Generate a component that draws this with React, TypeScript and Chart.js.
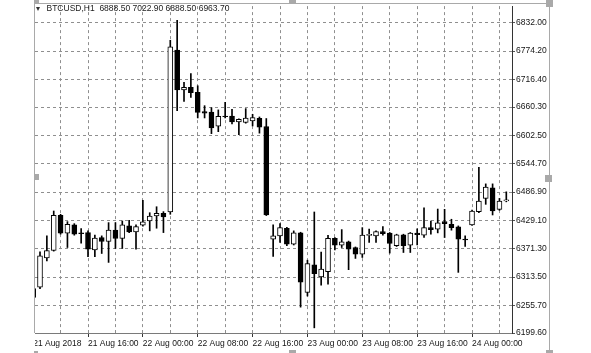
import React, { useEffect, useRef } from 'react';
import { Chart, registerables } from 'chart.js';

Chart.register(...registerables);

// Hourly bars, hour counted from 21 Aug 2018 00:00
const startHour = 8;

const opens = [
  6290.0, 6292.8, 6352.4, 6367.8, 6439.6, 6403.1, 6419.9, 6403.8, 6404.3, 6369.2,
  6394.2, 6386.1, 6409.2, 6392.2, 6417.9, 6405.7, 6419.3, 6428.0, 6438.2, 6443.6,
  6446.3, 6776.1, 6695.0, 6700.2, 6690.1, 6651.0, 6650.0, 6621.2, 6641.9, 6641.9,
  6630.1, 6628.7, 6632.1, 6637.4, 6620.6, 6390.9, 6397.6, 6413.2, 6380.8, 6403.7,
  6282.1, 6338.4, 6313.9, 6324.7, 6392.6, 6378.8, 6385.5, 6373.9, 6360.5, 6398.5,
  6397.6, 6406.3, 6403.1, 6377.4, 6399.7, 6378.8, 6403.1, 6399.0, 6414.4, 6411.2,
  6426.6, 6421.3, 6415.9, 6390.9, 6419.9, 6446.9, 6474.0, 6495.5, 6451.7, 6468.6,
];
const highs = [
  6293.0, 6365.2, 6397.6, 6448.3, 6441.5, 6426.6, 6422.5, 6412.4, 6407.8, 6399.0,
  6397.6, 6424.6, 6424.6, 6428.0, 6429.4, 6419.9, 6470.0, 6444.8, 6457.0, 6447.0,
  6796.3, 6837.0, 6710.4, 6728.6, 6703.6, 6663.0, 6659.0, 6654.4, 6669.8, 6655.5,
  6636.0, 6657.0, 6645.5, 6640.0, 6636.8, 6419.9, 6422.5, 6415.0, 6407.8, 6405.0,
  6348.0, 6446.3, 6364.6, 6398.6, 6394.0, 6410.4, 6387.0, 6375.0, 6414.4, 6411.2,
  6408.0, 6416.5, 6404.5, 6401.0, 6401.0, 6404.5, 6412.0, 6455.0, 6428.0, 6452.3,
  6451.7, 6431.5, 6417.9, 6397.6, 6450.0, 6537.5, 6503.6, 6503.6, 6474.0, 6487.4,
];
const lows = [
  6265.0, 6290.2, 6346.3, 6366.5, 6401.1, 6373.9, 6399.0, 6382.8, 6355.0, 6355.0,
  6361.7, 6343.5, 6371.9, 6371.9, 6404.3, 6370.7, 6417.3, 6407.8, 6413.2, 6404.3,
  6441.6, 6653.0, 6671.9, 6680.0, 6638.0, 6638.0, 6606.0, 6610.0, 6638.0, 6625.6,
  6603.7, 6627.3, 6621.6, 6607.0, 6439.0, 6355.7, 6384.0, 6377.4, 6379.0, 6252.3,
  6275.0, 6210.1, 6297.3, 6299.3, 6369.0, 6373.9, 6328.7, 6351.6, 6353.6, 6384.0,
  6384.0, 6399.0, 6362.5, 6376.0, 6363.7, 6363.7, 6379.4, 6394.2, 6401.1, 6403.7,
  6394.2, 6409.2, 6323.2, 6375.9, 6419.0, 6444.8, 6461.9, 6440.2, 6449.7, 6467.0,
];
const closes = [
  6272.0, 6357.1, 6367.8, 6439.6, 6403.1, 6421.3, 6401.1, 6402.0, 6370.7, 6393.0,
  6386.1, 6409.2, 6392.2, 6419.9, 6405.7, 6416.5, 6426.0, 6438.2, 6443.6, 6436.1,
  6782.8, 6695.0, 6700.2, 6689.5, 6649.5, 6647.6, 6617.5, 6641.5, 6640.5, 6630.1,
  6635.4, 6637.8, 6638.8, 6619.1, 6440.2, 6397.6, 6414.4, 6380.8, 6403.7, 6303.0,
  6340.9, 6320.6, 6330.1, 6392.6, 6378.8, 6385.5, 6370.7, 6360.5, 6399.0, 6400.5,
  6406.3, 6402.3, 6382.0, 6399.7, 6377.4, 6403.1, 6400.0, 6414.4, 6410.4, 6424.0,
  6422.5, 6414.4, 6390.9, 6389.5, 6448.3, 6468.6, 6496.9, 6448.3, 6468.6, 6471.2,
];

const yTickValues = [
  6832.0, 6774.2, 6716.4, 6660.3, 6602.5, 6544.7, 6486.9, 6429.1, 6371.3, 6313.5, 6255.7, 6199.6,
];
const xTickHours = [8, 12, 16, 20, 24, 28, 32, 36, 40, 44, 48, 52, 56, 60, 64, 68, 72, 76];
const xTickLabelHours = [8, 16, 24, 32, 40, 48, 56, 64, 72];
const xTickLabels = [
  '21 Aug 2018', '21 Aug 16:00', '22 Aug 00:00', '22 Aug 08:00', '22 Aug 16:00',
  '23 Aug 00:00', '23 Aug 08:00', '23 Aug 16:00', '24 Aug 00:00',
];
const headerSymbol = 'BTCUSD,H1';
const headerValues = ['6888.50', '7022.90', '6888.50', '6963.70'];

const FONT = "'Liberation Sans', Arial, sans-serif";

const framePlugin = {
  id: 'frameHandles',
  afterDraw(chart: any) {
    const ctx = chart.ctx;
    ctx.save();
    // mask the part of the first date label that sits left of the frame
    ctx.fillStyle = '#ffffff';
    ctx.fillRect(0, 334, 35, 19);
    ctx.strokeStyle = '#a9a9a9';
    ctx.lineWidth = 1;
    ctx.beginPath();
    ctx.moveTo(34.5, 3);
    ctx.lineTo(34.5, 333);
    ctx.moveTo(34, 3.5);
    ctx.lineTo(550, 3.5);
    ctx.moveTo(549.5, 3);
    ctx.lineTo(549.5, 353);
    ctx.stroke();
    ctx.fillStyle = '#a9a9a9';
    const handles = [
      [34, 0, 5, 4], [289, 0, 7, 4], [546, 0, 7, 7],
      [34, 174, 5, 6], [545, 175, 7, 7],
      [34, 351, 4, 2], [289, 350, 7, 3], [546, 350, 7, 3],
    ];
    handles.forEach(([x, y, w, h]) => ctx.fillRect(x, y, w, h));
    ctx.restore();
  },
};

export default function App() {
  const canvasRef = useRef<HTMLCanvasElement | null>(null);

  useEffect(() => {
    const canvas = canvasRef.current;
    if (!canvas) return;
    const hours = opens.map((_, i) => startHour + i);
    const wickData = hours.map((h, i) => ({ x: h, y: [lows[i], highs[i]] }));
    const bodyData = hours.map((h, i) => ({ x: h, y: [opens[i], closes[i]] }));
    const bodyColors = opens.map((o, i) => (closes[i] >= o ? '#ffffff' : '#000000'));

    const chart = new Chart(canvas, {
      type: 'bar',
      data: {
        datasets: [
          {
            data: bodyData as any,
            backgroundColor: bodyColors,
            borderColor: '#000000',
            borderWidth: 1,
            borderSkipped: false,
            barThickness: 5,
            grouped: false,
            order: 1,
            clip: 0,
          } as any,
          {
            data: wickData as any,
            backgroundColor: '#000000',
            borderWidth: 0,
            barThickness: 1,
            grouped: false,
            order: 2,
            clip: 0,
          } as any,
        ],
      },
      options: {
        animation: false,
        responsive: false,
        maintainAspectRatio: false,
        layout: { padding: { left: 35, top: 4, right: 0, bottom: 0 } },
        plugins: { legend: { display: false }, tooltip: { enabled: false } },
        scales: {
          x: {
            type: 'linear',
            offset: false,
            min: 8.27,
            max: 77.83,
            afterBuildTicks: (s: any) => {
              s.ticks = xTickHours.map((v) => ({ value: v }));
            },
            afterFit: (s: any) => {
              s.height = 20;
              s.paddingLeft = 0;
              s.paddingRight = 0;
            },
            ticks: {
              autoSkip: false,
              maxRotation: 0,
              minRotation: 0,
              align: 'start',
              padding: 2,
              color: '#151515',
              font: { family: FONT, size: 8.5 },
              callback: (v: any) => {
                const k = xTickLabelHours.indexOf(Number(v));
                return k >= 0 ? xTickLabels[k] : '';
              },
            },
            grid: {
              offset: false,
              color: (c: any) => (c.tick && c.tick.value === 8 ? 'rgba(0,0,0,0)' : '#8f8f8f'),
              lineWidth: 1,
              tickLength: 4,
              tickColor: (c: any) =>
                c.tick && c.tick.value !== 8 && xTickLabelHours.includes(c.tick.value)
                  ? '#333333'
                  : 'rgba(0,0,0,0)',
            },
            border: { display: true, color: '#7a7a7a', width: 1, dash: [3, 3] },
          } as any,
          y: {
            type: 'linear',
            position: 'right',
            min: 6199.6,
            max: 6866,
            afterBuildTicks: (s: any) => {
              s.ticks = yTickValues.map((v) => ({ value: v }));
            },
            afterFit: (s: any) => {
              s.width = 79;
            },
            ticks: {
              autoSkip: false,
              padding: 1,
              color: '#151515',
              font: { family: FONT, size: 8.5 },
              callback: (v: any) => Number(v).toFixed(2),
            },
            grid: { color: '#8f8f8f', lineWidth: 1, tickLength: 3, tickColor: '#555555' },
            border: { display: true, color: '#333333', width: 1, dash: [3, 3] },
          } as any,
        },
      },
      plugins: [framePlugin],
    } as any);

    return () => chart.destroy();
  }, []);

  return (
    <div style={{ position: 'absolute', left: 0, top: 0, width: 591, height: 353, background: '#ffffff' }}>
      <canvas ref={canvasRef} width={591} height={353} style={{ display: 'block', width: 591, height: 353 }} />
      <div
        style={{
          position: 'absolute',
          left: 36,
          top: 7,
          width: 0,
          height: 0,
          borderLeft: '2.5px solid transparent',
          borderRight: '2.5px solid transparent',
          borderTop: '4px solid #333',
        }}
      />
      <div
        style={{
          position: 'absolute',
          left: 46.5,
          top: 4,
          fontFamily: FONT,
          fontSize: 8.5,
          lineHeight: '8.5px',
          color: '#1a1a1a',
          whiteSpace: 'pre',
        }}
      >
        {headerSymbol + '  ' + headerValues.join(' ')}
      </div>
    </div>
  );
}
